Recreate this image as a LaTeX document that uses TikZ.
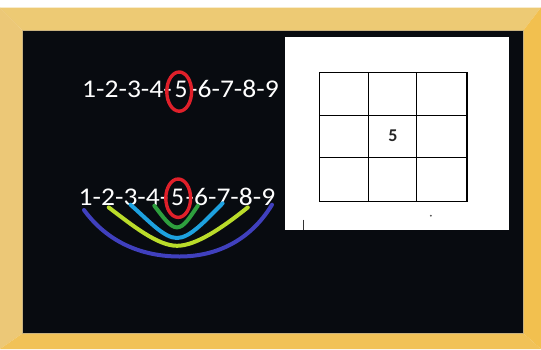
\documentclass[tikz,border=0pt]{standalone}
\usepackage{fontspec}
\setmainfont{Carlito}
\definecolor{woodtop}{HTML}{EDCA74}
\definecolor{woodleft}{HTML}{ECC877}
\definecolor{woodright}{HTML}{F2C04F}
\definecolor{woodbottom}{HTML}{F1C258}
\definecolor{boardcol}{HTML}{080B10}
\definecolor{boardedge}{HTML}{C9B27E}
\definecolor{ringred}{HTML}{E0202A}
\definecolor{arcgreen}{HTML}{2E9E3E}
\definecolor{arccyan}{HTML}{1DA1E0}
\definecolor{arclime}{HTML}{BADC2A}
\definecolor{arcindigo}{HTML}{4040BE}
\begin{document}
\begin{tikzpicture}[x=1pt,y=-1pt,
  numtxt/.style={text=white,inner sep=0pt,font=\fontsize{25.5}{30}\selectfont},
  ring/.style={draw=ringred,line width=3.4pt},
  arcline/.style={line width=4pt,line cap=round},
  gridline/.style={draw=black,line width=1.1pt},
  cellnum/.style={inner sep=0pt,font=\fontsize{18}{21}\selectfont\bfseries,text=black!85}]
\useasboundingbox (0,0) rectangle (541,349);
\fill[white] (0,0) rectangle (541,349);
% wooden frame
\fill[woodtop] (0,7.5) -- (541,7.5) -- (523.3,30.5) -- (22.7,30.5) -- cycle;
\fill[woodleft] (0,7.5) -- (22.7,30.5) -- (22.7,333.3) -- (0,349) -- cycle;
\fill[woodright] (541,7.5) -- (541,349) -- (523.3,333.3) -- (523.3,30.5) -- cycle;
\fill[woodbottom] (0,349) -- (22.7,333.3) -- (523.3,333.3) -- (541,349) -- cycle;
% board
\fill[boardcol,draw=boardedge,line width=0.8pt] (22.7,30.5) rectangle (523.3,333.3);
% white sheet with grid
\fill[white] (284.5,37) rectangle (508.5,229.5);
\draw[gridline] (319.6,72.3) rectangle (467,201.3);
\draw[gridline] (368.6,72.3) -- (368.6,201.3);
\draw[gridline] (416.8,72.3) -- (416.8,201.3);
\draw[gridline] (319.6,115.5) -- (467,115.5);
\draw[gridline] (319.6,157.9) -- (467,157.9);
\node[cellnum] (c5) at (393,136) {5};
\draw[black!80,line width=1pt] (303,219.5) -- (303,229.5);
\fill[black!70] (430.8,215.7) circle[radius=1pt];
% first row of numbers
\node[numtxt,anchor=base east] (r1a) at (172,97.7) {\scalebox{1.08}[1]{1-2-3-4-}};
\node[numtxt,anchor=base] (r1b) at (181,97.7) {5};
\node[numtxt,anchor=base west] (r1c) at (189,97.7) {\scalebox{1.08}[1]{-6-7-8-9}};
\draw[ring] (179.2,91.6) ellipse [x radius=12.4pt, y radius=19.6pt];
% second row of numbers
\node[numtxt,anchor=base east] (r2a) at (168.5,205) {\scalebox{1.08}[1]{1-2-3-4-}};
\node[numtxt,anchor=base] (r2b) at (177.5,205) {5};
\node[numtxt,anchor=base west] (r2c) at (185.5,205) {\scalebox{1.08}[1]{-6-7-8-9}};
% nested arcs
\coordinate (gS) at (154.3,205.7); \coordinate (gB) at (177,227.4); \coordinate (gE) at (197.8,205.7);
\coordinate (cS) at (130.5,204.7); \coordinate (cB) at (177,238);   \coordinate (cE) at (222.6,203.3);
\coordinate (yS) at (108.7,207.4); \coordinate (yB) at (177,245.8); \coordinate (yE) at (247.8,207.4);
\coordinate (iS) at (84,210);      \coordinate (iB) at (179.5,256.5); \coordinate (iE) at (272,204.7);
\draw[arcline,arcindigo] (iS) .. controls (108,243) and (143,256.5) .. (iB) .. controls (216,256.5) and (250,241) .. (iE);
\draw[arcline,arclime] (yS) .. controls (133,226) and (158,245.8) .. (yB) .. controls (196,245.8) and (222,228) .. (yE);
\draw[arcline,arccyan] (cS) .. controls (149,221) and (164,238) .. (cB) .. controls (190,238) and (205,221) .. (cE);
\draw[arcline,arcgreen] (gS) .. controls (163,217) and (170,227.4) .. (gB) .. controls (184,227.4) and (190,217) .. (gE);
\draw[ring] (178.2,198.2) ellipse [x radius=12.4pt, y radius=19.2pt];
\end{tikzpicture}
\end{document}
